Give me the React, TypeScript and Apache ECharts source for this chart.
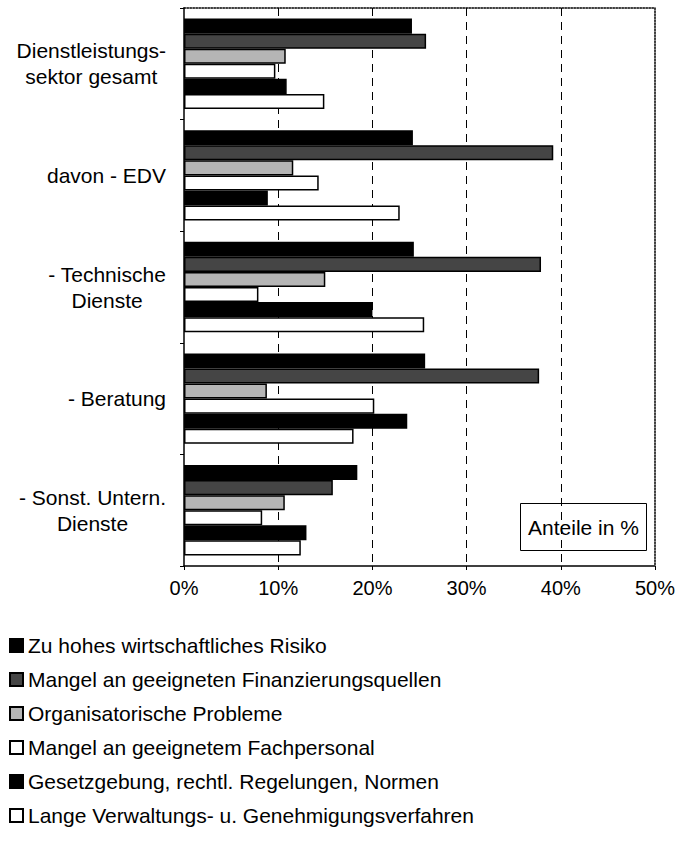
import React, { useEffect, useRef } from "react";
import * as echarts from "echarts";

const categories = [
  "Dienstleistungs-\nsektor gesamt",
  "davon - EDV",
  "- Technische\nDienste",
  "- Beratung",
  "- Sonst. Untern.\nDienste",
];

const seriesNames = [
  "Zu hohes wirtschaftliches Risiko",
  "Mangel an geeigneten Finanzierungsquellen",
  "Organisatorische Probleme",
  "Mangel an geeignetem Fachpersonal",
  "Gesetzgebung, rechtl. Regelungen, Normen",
  "Lange Verwaltungs- u. Genehmigungsverfahren",
];

const risiko = [24.2, 24.3, 24.4, 25.6, 18.4];
const finanzierung = [25.7, 39.2, 37.9, 37.7, 15.8];
const organisation = [10.8, 11.6, 15.0, 8.8, 10.7];
const fachpersonal = [9.7, 14.3, 7.9, 20.2, 8.3];
const gesetzgebung = [10.9, 8.9, 20.0, 23.7, 13.0];
const verwaltung = [14.9, 22.9, 25.5, 18.0, 12.4];

const seriesValues = [risiko, finanzierung, organisation, fachpersonal, gesetzgebung, verwaltung];
const seriesColors = ["#000000", "#454545", "#b5b5b5", "#ffffff", "#000000", "#ffffff"];

const xTicks = [0, 10, 20, 30, 40, 50];

const FONT = '"Liberation Sans", Arial, Helvetica, sans-serif';

export default function App() {
  const ref = useRef<HTMLDivElement>(null);

  useEffect(() => {
    if (!ref.current) return;
    const chart = echarts.init(ref.current, null, { renderer: "svg" });
    const option: any = {
      animation: false,
      backgroundColor: "#ffffff",
      textStyle: { fontFamily: FONT, color: "#000" },
      grid: { left: 184, right: 36, top: 8, bottom: 278, containLabel: false },
      xAxis: [
        {
          type: "value",
          min: xTicks[0],
          max: xTicks[xTicks.length - 1],
          interval: 10,
          position: "bottom",
          axisLine: { show: true, onZero: false, lineStyle: { color: "#000", width: 1.5 } },
          axisTick: { show: true, length: 4, lineStyle: { color: "#000" } },
          axisLabel: {
            formatter: "{value}%",
            fontSize: 20,
            color: "#000",
            fontFamily: FONT,
            margin: 12,
          },
          splitLine: {
            show: true,
            showMinLine: false,
            showMaxLine: false,
            lineStyle: { color: "#000", type: [8, 6], width: 1 },
          },
        },
        {
          type: "value",
          min: xTicks[0],
          max: xTicks[xTicks.length - 1],
          interval: 10,
          position: "top",
          axisLine: { show: true, onZero: false, lineStyle: { color: "#000", type: "dotted", width: 1.5 } },
          axisTick: { show: false },
          axisLabel: { show: false },
          splitLine: { show: false },
        },
      ],
      yAxis: [
        {
          type: "category",
          data: categories,
          inverse: true,
          axisLine: { show: true, onZero: false, lineStyle: { color: "#000", width: 1.5 } },
          axisTick: { show: true, length: 4, lineStyle: { color: "#000" } },
          axisLabel: {
            margin: 18,
            formatter: (v: string) =>
              v
                .split("\n")
                .map((l) => `{c|${l}}`)
                .join("\n"),
            rich: {
              c: { align: "center", fontSize: 21, lineHeight: 26, fontFamily: FONT, color: "#000" },
            },
          },
        },
        {
          type: "category",
          data: categories,
          inverse: true,
          position: "right",
          axisLine: { show: true, onZero: false, lineStyle: { color: "#000", type: "dotted", width: 1.5 } },
          axisTick: { show: false },
          axisLabel: { show: false },
        },
      ],
      legend: {
        orient: "vertical",
        left: 4,
        top: 630,
        itemWidth: 13,
        itemHeight: 13,
        itemGap: 13,
        icon: "rect",
        textStyle: { fontSize: 21, lineHeight: 21, fontFamily: FONT, color: "#000" },
        data: seriesNames,
      },
      series: seriesNames.map((name, i) => ({
        name,
        type: "bar",
        xAxisIndex: 0,
        yAxisIndex: 0,
        data: seriesValues[i],
        barGap: "0%",
        barCategoryGap: "19%",
        itemStyle: { color: seriesColors[i], borderColor: "#000", borderWidth: 1.5 },
        emphasis: { disabled: true },
      })),
      graphic: [
        {
          type: "group",
          right: 44,
          top: 503,
          z: 100,
          children: [
            {
              type: "rect",
              shape: { x: 0, y: 0, width: 126, height: 47 },
              style: { fill: "#fff", stroke: "#000", lineWidth: 1 },
            },
            {
              type: "text",
              style: {
                x: 63,
                y: 24,
                text: "Anteile in %",
                fontSize: 21,
                fontFamily: FONT,
                fill: "#000",
                align: "center",
                verticalAlign: "middle",
              },
            },
          ],
        },
      ],
    };
    chart.setOption(option);
    return () => chart.dispose();
  }, []);

  return (
    <div
      ref={ref}
      style={{ position: "fixed", left: 0, top: 0, width: 691, height: 844, background: "#fff" }}
    />
  );
}
